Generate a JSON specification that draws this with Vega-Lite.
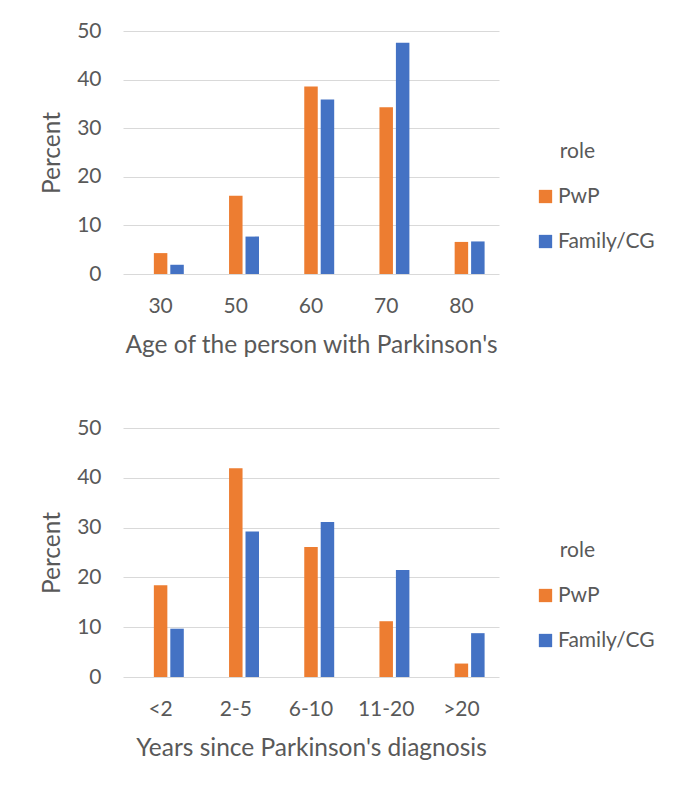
{
  "$schema": "https://vega.github.io/schema/vega-lite/v6.json",
  "background": "white",
  "padding": {"left": 39, "top": 20, "right": 5, "bottom": 5},
  "datasets": {
    "age": [
      {"group": "30", "role": "PwP", "percent": 4.3},
      {"group": "30", "role": "Family/CG", "percent": 1.9},
      {"group": "50", "role": "PwP", "percent": 16.1},
      {"group": "50", "role": "Family/CG", "percent": 7.7},
      {"group": "60", "role": "PwP", "percent": 38.6},
      {"group": "60", "role": "Family/CG", "percent": 35.9},
      {"group": "70", "role": "PwP", "percent": 34.3},
      {"group": "70", "role": "Family/CG", "percent": 47.6},
      {"group": "80", "role": "PwP", "percent": 6.6},
      {"group": "80", "role": "Family/CG", "percent": 6.7}
    ],
    "years": [
      {"group": "<2", "role": "PwP", "percent": 18.4},
      {"group": "<2", "role": "Family/CG", "percent": 9.7},
      {"group": "2-5", "role": "PwP", "percent": 41.9},
      {"group": "2-5", "role": "Family/CG", "percent": 29.2},
      {"group": "6-10", "role": "PwP", "percent": 26.1},
      {"group": "6-10", "role": "Family/CG", "percent": 31.1},
      {"group": "11-20", "role": "PwP", "percent": 11.2},
      {"group": "11-20", "role": "Family/CG", "percent": 21.5},
      {"group": ">20", "role": "PwP", "percent": 2.7},
      {"group": ">20", "role": "Family/CG", "percent": 8.8}
    ]
  },
  "spacing": 60,
  "vconcat": [
    {
      "data": {"name": "age"},
      "width": 376,
      "height": 243,
      "mark": "bar",
      "encoding": {
        "x": {
          "field": "group",
          "type": "nominal",
          "sort": ["30", "50", "60", "70", "80"],
          "title": "Age of the person with Parkinson's",
          "scale": {"paddingInner": 0.383, "paddingOuter": 0.1915}
        },
        "xOffset": {
          "field": "role",
          "scale": {"domain": ["blank", "PwP", "Family/CG"], "paddingInner": 0.18, "paddingOuter": 0}
        },
        "y": {
          "field": "percent",
          "type": "quantitative",
          "title": "Percent",
          "scale": {"domain": [0, 50], "nice": false},
          "axis": {"values": [0, 10, 20, 30, 40, 50]}
        },
        "color": {
          "field": "role",
          "type": "nominal",
          "scale": {"domain": ["PwP", "Family/CG"], "range": ["#ED7D31", "#4472C4"]},
          "legend": {"title": "role", "orient": "none", "legendX": 412, "legendY": 110}
        }
      }
    },
    {
      "data": {"name": "years"},
      "width": 376,
      "height": 249,
      "mark": "bar",
      "encoding": {
        "x": {
          "field": "group",
          "type": "nominal",
          "sort": ["<2", "2-5", "6-10", "11-20", ">20"],
          "title": "Years since Parkinson's diagnosis",
          "scale": {"paddingInner": 0.383, "paddingOuter": 0.1915}
        },
        "xOffset": {
          "field": "role",
          "scale": {"domain": ["blank", "PwP", "Family/CG"], "paddingInner": 0.18, "paddingOuter": 0}
        },
        "y": {
          "field": "percent",
          "type": "quantitative",
          "title": "Percent",
          "scale": {"domain": [0, 50], "nice": false},
          "axis": {"values": [0, 10, 20, 30, 40, 50]}
        },
        "color": {
          "field": "role",
          "type": "nominal",
          "scale": {"domain": ["PwP", "Family/CG"], "range": ["#ED7D31", "#4472C4"]},
          "legend": {"title": "role", "orient": "none", "legendX": 412, "legendY": 112}
        }
      }
    }
  ],
  "resolve": {"legend": {"color": "independent"}, "scale": {"color": "independent"}},
  "config": {
    "font": "Lato",
    "view": {"stroke": null},
    "axis": {
      "labelFont": "Lato",
      "labelFontSize": 21,
      "labelColor": "#595959",
      "titleFont": "Lato",
      "titleFontSize": 24.5,
      "titleFontWeight": "normal",
      "titleColor": "#595959",
      "domain": false,
      "ticks": false,
      "gridColor": "#d9d9d9",
      "gridWidth": 1
    },
    "axisX": {"grid": false, "labelAngle": 0, "labelPadding": 21, "titlePadding": 17},
    "axisY": {"labelPadding": 22, "titlePadding": 12},
    "legend": {
      "padding": 0,
      "labelFont": "Lato",
      "labelFontSize": 21,
      "labelColor": "#595959",
      "titleFont": "Lato",
      "titleFontSize": 21,
      "titleFontWeight": "normal",
      "titleColor": "#595959",
      "titleAnchor": "middle",
      "titleAlign": "right",
      "symbolType": "square",
      "symbolSize": 177,
      "symbolStrokeWidth": 0,
      "labelOffset": 2,
      "rowPadding": 23,
      "titlePadding": 24
    }
  }
}
